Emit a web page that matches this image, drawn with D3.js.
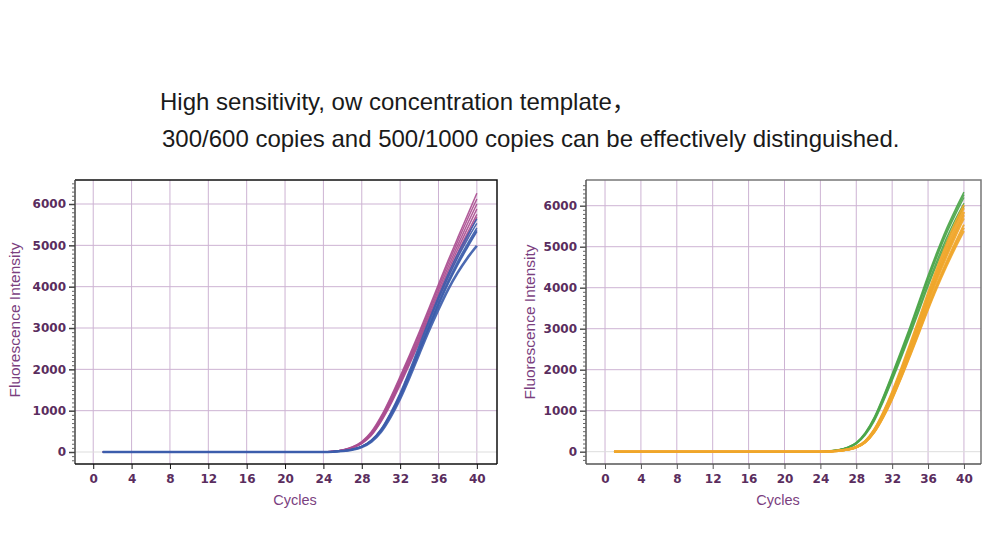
<!DOCTYPE html>
<html><head><meta charset="utf-8">
<script src="https://cdn.jsdelivr.net/npm/d3@7"></script>
<style>
html,body{margin:0;padding:0;background:#fff;}
svg{display:block;}
</style></head>
<body>
<svg id="c" width="992" height="558"></svg>
<script>
// ---------- data ----------
const titleLines = ["High sensitivity, ow concentration template\uFF0C",
                    "300/600 copies and 500/1000 copies can be effectively distinguished."];
const cycles = [1,2,3,4,5,6,7,8,9,10,11,12,13,14,15,16,17,18,19,20,21,22,23,24,25,26,27,28,29,30,31,32,33,34,35,36,37,38,39,40];
const xTickValues = [0,4,8,12,16,20,24,28,32,36,40];
const yTickValues = [0,1000,2000,3000,4000,5000,6000];

// left chart, magenta group (earlier Ct)
const leftPink = [
 [0,0,0,0,0,0,0,0,0,0,0,0,0,0,0,0,0,0,0,0,0,0,0, 0,17,50,122,252,490,860,1320,1830,2360,2910,3480,4060,4630,5180,5720,6260],
 [0,0,0,0,0,0,0,0,0,0,0,0,0,0,0,0,0,0,0,0,0,0,0, 0,15,45,110,230,450,800,1240,1740,2260,2800,3360,3920,4470,5000,5510,6000],
 [0,0,0,0,0,0,0,0,0,0,0,0,0,0,0,0,0,0,0,0,0,0,0, 0,14,43,105,220,432,775,1205,1700,2215,2745,3295,3845,4385,4905,5400,5880],
 [0,0,0,0,0,0,0,0,0,0,0,0,0,0,0,0,0,0,0,0,0,0,0, 0,13,41,100,210,415,750,1175,1660,2170,2695,3235,3775,4305,4815,5290,5750],
 [0,0,0,0,0,0,0,0,0,0,0,0,0,0,0,0,0,0,0,0,0,0,0, 0,16,48,116,242,472,832,1285,1790,2315,2860,3425,3995,4555,5095,5620,6120],
 [0,0,0,0,0,0,0,0,0,0,0,0,0,0,0,0,0,0,0,0,0,0,0, 0,12,39,96,202,400,728,1145,1625,2130,2650,3180,3710,4230,4730,5200,5680]
];
// left chart, blue group (later Ct)
const leftBlue = [
 [0,0,0,0,0,0,0,0,0,0,0,0,0,0,0,0,0,0,0,0,0,0,0, 0,9,27,64,138,288,552,950,1425,1985,2585,3185,3760,4300,4790,5230,5640],
 [0,0,0,0,0,0,0,0,0,0,0,0,0,0,0,0,0,0,0,0,0,0,0, 0,8,25,60,130,270,520,900,1360,1900,2480,3060,3620,4140,4610,5030,5420],
 [0,0,0,0,0,0,0,0,0,0,0,0,0,0,0,0,0,0,0,0,0,0,0, 0,7,24,57,124,258,500,868,1318,1848,2420,2995,3545,4060,4520,4935,5330],
 [0,0,0,0,0,0,0,0,0,0,0,0,0,0,0,0,0,0,0,0,0,0,0, 0,8,26,62,134,280,538,928,1395,1945,2535,3125,3695,4225,4705,5135,5530],
 [0,0,0,0,0,0,0,0,0,0,0,0,0,0,0,0,0,0,0,0,0,0,0, 0,7,24,58,126,264,510,884,1340,1875,2450,3025,3580,4095,4560,4975,5360],
 [0,0,0,0,0,0,0,0,0,0,0,0,0,0,0,0,0,0,0,0,0,0,0, 0,7,23,55,120,250,485,845,1290,1815,2380,2935,3450,3930,4340,4690,4990]
];
// right chart, green group (earlier Ct)
const rightGreen = [
 [0,0,0,0,0,0,0,0,0,0,0,0,0,0,0,0,0,0,0,0,0,0,0, 0,15,45,106,222,462,836,1340,1895,2465,3055,3675,4295,4875,5415,5890,6330],
 [0,0,0,0,0,0,0,0,0,0,0,0,0,0,0,0,0,0,0,0,0,0,0, 0,14,42,100,210,440,800,1290,1830,2390,2970,3580,4190,4760,5290,5760,6200],
 [0,0,0,0,0,0,0,0,0,0,0,0,0,0,0,0,0,0,0,0,0,0,0, 0,13,40,95,200,422,770,1245,1775,2330,2900,3500,4100,4660,5180,5645,6060],
 [0,0,0,0,0,0,0,0,0,0,0,0,0,0,0,0,0,0,0,0,0,0,0, 0,14,43,103,216,452,818,1315,1862,2428,3013,3628,4243,4818,5353,5826,6270],
 [0,0,0,0,0,0,0,0,0,0,0,0,0,0,0,0,0,0,0,0,0,0,0, 0,12,38,92,193,408,748,1215,1740,2285,2850,3440,4035,4585,5095,5550,5990]
];
// right chart, orange group (later Ct)
const rightOrange = [
 [0,0,0,0,0,0,0,0,0,0,0,0,0,0,0,0,0,0,0,0,0,0,0, 0,8,24,56,122,264,548,965,1465,2035,2635,3255,3885,4485,5045,5570,6020],
 [0,0,0,0,0,0,0,0,0,0,0,0,0,0,0,0,0,0,0,0,0,0,0, 0,7,22,52,115,250,520,920,1400,1950,2530,3130,3740,4320,4860,5370,5850],
 [0,0,0,0,0,0,0,0,0,0,0,0,0,0,0,0,0,0,0,0,0,0,0, 0,7,21,50,110,240,500,888,1355,1893,2460,3045,3640,4205,4730,5225,5690],
 [0,0,0,0,0,0,0,0,0,0,0,0,0,0,0,0,0,0,0,0,0,0,0, 0,6,20,48,106,232,484,860,1315,1840,2395,2965,3545,4095,4605,5085,5540],
 [0,0,0,0,0,0,0,0,0,0,0,0,0,0,0,0,0,0,0,0,0,0,0, 0,6,19,46,102,224,468,834,1280,1795,2340,2900,3465,4000,4495,4955,5380],
 [0,0,0,0,0,0,0,0,0,0,0,0,0,0,0,0,0,0,0,0,0,0,0, 0,7,23,54,118,256,534,942,1432,1992,2582,3192,3812,4402,4952,5470,5940],
 [0,0,0,0,0,0,0,0,0,0,0,0,0,0,0,0,0,0,0,0,0,0,0, 0,7,22,51,112,245,510,904,1378,1922,2495,3088,3690,4262,4795,5298,5770],
 [0,0,0,0,0,0,0,0,0,0,0,0,0,0,0,0,0,0,0,0,0,0,0, 0,6,20,47,104,228,476,847,1298,1818,2368,2933,3505,4048,4550,5020,5460]
];

// ---------- drawing ----------
const svg = d3.select("#c");

svg.selectAll("text.title").data(titleLines).join("text")
  .attr("class","title")
  .attr("x",(d,i)=> i===0 ? 160 : 162)
  .attr("y",(d,i)=> i===0 ? 110 : 147)
  .attr("font-family","'Liberation Sans', Arial, 'Noto Sans CJK SC', sans-serif")
  .attr("font-size",24)
  .attr("fill","#1a1a1a")
  .text(d=>d);

const minorTicks = d3.range(-200, 6600, 100).filter(v => v % 1000 !== 0);

function drawChart(cfg){
  const g = svg.append("g");
  const x = d3.scaleLinear().domain(cfg.xDomain).range([cfg.left, cfg.right]);
  const y = d3.scaleLinear().domain(cfg.yDomain).range([cfg.bottom, cfg.top]);

  // grid
  g.selectAll("line.vg").data(xTickValues).join("line")
    .attr("x1",d=>x(d)).attr("x2",d=>x(d)).attr("y1",cfg.top).attr("y2",cfg.bottom)
    .attr("stroke","#cdb3d3").attr("stroke-width",1);
  g.selectAll("line.hg").data(yTickValues).join("line")
    .attr("x1",cfg.left).attr("x2",cfg.right).attr("y1",d=>y(d)).attr("y2",d=>y(d))
    .attr("stroke",d=> d===0 ? "#dddddd" : "#cdb3d3").attr("stroke-width",1);

  // curves
  const line = d3.line().x((d,i)=>x(cycles[i])).y(d=>y(d)).curve(d3.curveMonotoneX);
  cfg.groups.forEach(grp=>{
    g.append("g").selectAll("path").data(grp.data).join("path")
      .attr("d",line).attr("fill","none")
      .attr("stroke",grp.color)
      .attr("stroke-width",(d,i)=> (grp.thick===i) ? 2.6 : grp.w)
      .attr("stroke-opacity",0.92);
  });

  // frame top/right
  g.append("path")
    .attr("d",`M${cfg.left},${cfg.top}H${cfg.right}V${cfg.bottom}`)
    .attr("fill","none").attr("stroke",cfg.frame).attr("stroke-width",1.5);

  // axes
  const yAxis = d3.axisLeft(y).tickValues(yTickValues).tickSize(6).tickPadding(3).tickFormat(d3.format("d"));
  const ya = g.append("g").attr("transform",`translate(${cfg.left},0)`).call(yAxis);
  const yMinor = d3.axisLeft(y).tickValues(minorTicks).tickSize(3).tickFormat("");
  const ym = g.append("g").attr("transform",`translate(${cfg.left},0)`).call(yMinor);
  ym.select(".domain").remove();
  ya.select(".domain").attr("d",`M0,${cfg.top}V${cfg.bottom}`).attr("stroke",cfg.axis).attr("stroke-width",1.5);
  ya.selectAll(".tick line").attr("stroke",cfg.axis).attr("stroke-width",1.5);
  ym.selectAll(".tick line").attr("stroke","#666");

  const xAxis = d3.axisBottom(x).tickValues(xTickValues).tickSize(5).tickPadding(5);
  const xa = g.append("g").attr("transform",`translate(0,${cfg.bottom})`).call(xAxis);
  xa.select(".domain").attr("d",`M${cfg.left},0H${cfg.right}`).attr("stroke",cfg.xaxis).attr("stroke-width",1.5);
  xa.selectAll(".tick line").attr("stroke",cfg.xaxis);

  [ya,xa].forEach(a=>a.selectAll("text")
    .attr("font-family","'DejaVu Sans', Verdana, sans-serif")
    .attr("font-size",12).attr("font-weight","bold").attr("fill","#5a2d5e"));

  g.append("text").attr("x",cfg.xLabelX).attr("y",505)
    .attr("text-anchor","middle")
    .attr("font-family","'Liberation Sans', Arial, sans-serif").attr("font-size",14.5)
    .attr("fill","#7b3f7f").text("Cycles");
  g.append("text")
    .attr("transform",`translate(${cfg.yLabelX},${cfg.yLabelY}) rotate(-90)`)
    .attr("text-anchor","middle")
    .attr("font-family","'Liberation Sans', Arial, sans-serif").attr("font-size",15.5)
    .attr("fill","#7b3f7f").text("Fluorescence Intensity");
}

drawChart({
  left:75, right:497, top:180, bottom:464,
  xDomain:[-1.9,42.1], yDomain:[-290,6581],
  frame:"#111", axis:"#444", xaxis:"#111",
  xLabelX:295, yLabelX:20, yLabelY:320,
  groups:[{data:leftPink,color:"#aa4d90",w:1.5},{data:leftBlue,color:"#3d5dab",w:1.5,thick:5}]
});
drawChart({
  left:586, right:981, top:180, bottom:464,
  xDomain:[-2.12,41.9], yDomain:[-300,6627],
  frame:"#777", axis:"#555", xaxis:"#555",
  xLabelX:778, yLabelX:535, yLabelY:322,
  groups:[{data:rightGreen,color:"#4ca64a",w:1.5},{data:rightOrange,color:"#f0a62a",w:2,thick:1}]
});
</script>
</body></html>
